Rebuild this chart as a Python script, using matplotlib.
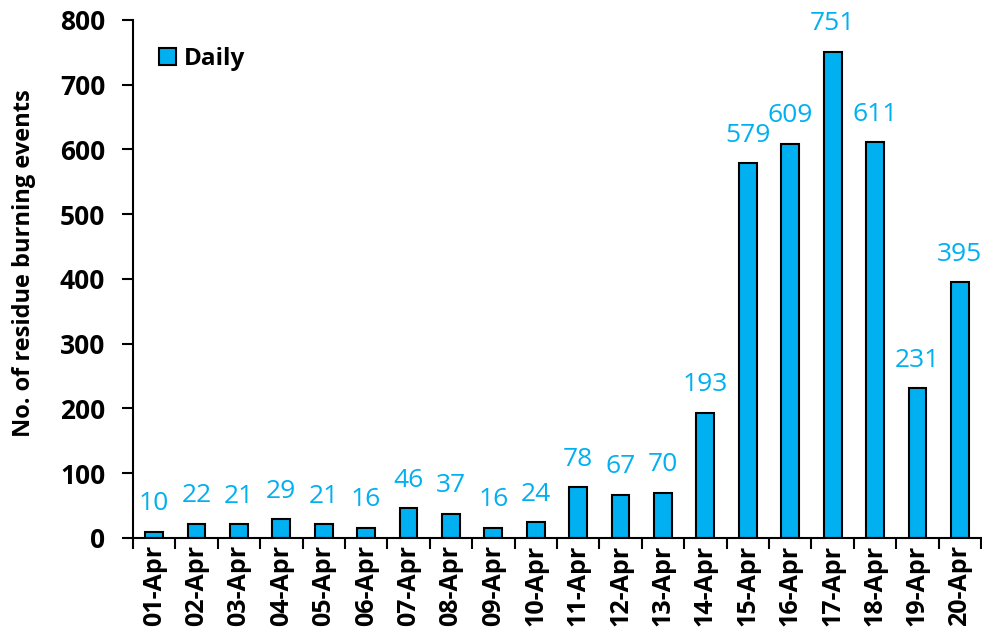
import matplotlib.pyplot as plt
import numpy as np
from matplotlib.ticker import FixedLocator

# Daily residue burning events
dates = ['01-Apr', '02-Apr', '03-Apr', '04-Apr', '05-Apr', '06-Apr', '07-Apr',
         '08-Apr', '09-Apr', '10-Apr', '11-Apr', '12-Apr', '13-Apr', '14-Apr',
         '15-Apr', '16-Apr', '17-Apr', '18-Apr', '19-Apr', '20-Apr']
daily = [10, 22, 21, 29, 21, 16, 46, 37, 16, 24, 78, 67, 70, 193,
         579, 609, 751, 611, 231, 395]

plt.rcParams['font.family'] = ['Open Sans', 'DejaVu Sans']
blue = '#00B0F0'

fig = plt.figure(figsize=(9.82, 6.44), dpi=100)
ax = fig.add_axes([0.1354, 0.1646, 0.8636, 0.8044])

x = np.arange(len(dates))
ax.bar(x, daily, width=0.42, color=blue, edgecolor='black', linewidth=1.5,
       label='Daily')

# value labels
for xi, v in zip(x, daily):
    ax.text(xi, v + 24, str(v), ha='center', va='bottom', color=blue, fontsize=19)

ax.set_xlim(-0.5, len(dates) - 0.5)
ax.set_ylim(0, 800)
ax.set_yticks(range(0, 801, 100))
ax.set_xticks(x)
ax.set_xticklabels(dates, rotation=90, fontweight='bold', fontsize=18)
for lbl in ax.get_yticklabels():
    lbl.set_fontweight('bold')
    lbl.set_fontsize(19)

# tick marks between categories
ax.xaxis.set_minor_locator(FixedLocator(np.arange(-0.5, len(dates), 1.0)))
ax.tick_params(axis='x', which='major', length=0, pad=5)
ax.tick_params(axis='x', which='minor', length=8, width=1.5, direction='out')
ax.tick_params(axis='y', length=8, width=1.5, direction='out', pad=12)

ax.set_ylabel('No. of residue burning events', fontweight='bold', fontsize=17)
ax.yaxis.set_label_coords(-0.114, 0.53)

for s in ['top', 'right']:
    ax.spines[s].set_visible(False)
for s in ['left', 'bottom']:
    ax.spines[s].set_linewidth(1.5)

ax.legend(loc='upper left', frameon=False, prop={'weight': 'bold', 'size': 17.5},
          handlelength=0.7, handleheight=0.7, handletextpad=0.3,
          bbox_to_anchor=(0.005, 0.99))

fig.savefig('out.png', dpi=100)
